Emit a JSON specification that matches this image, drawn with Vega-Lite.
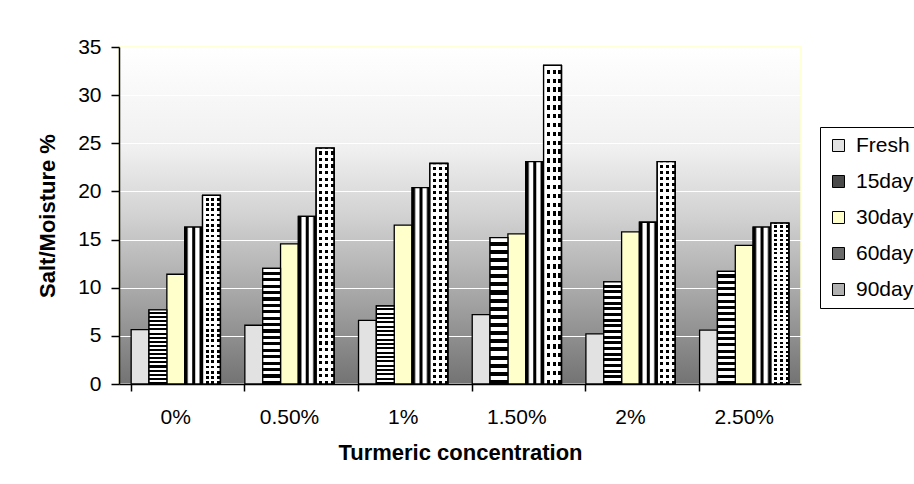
{
  "$schema": "https://vega.github.io/schema/vega-lite/v6.json",
  "width": 682,
  "height": 337,
  "autosize": {"type": "none"},
  "padding": {"left": 119, "top": 47, "right": 113, "bottom": 100},
  "background": "white",
  "config": {
    "font": "Liberation Sans",
    "view": {
      "fill": {"gradient": "linear", "x1": 0, "y1": 0, "x2": 0, "y2": 1,
        "stops": [
          {"offset": 0, "color": "#ffffff"},
          {"offset": 0.3, "color": "#f0f0f0"},
          {"offset": 0.5, "color": "#d2d2d2"},
          {"offset": 0.75, "color": "#a4a4a4"},
          {"offset": 1, "color": "#737373"}
        ]},
      "stroke": "#ffffcc",
      "strokeWidth": 1.5
    },
    "axis": {
      "labelFont": "Liberation Sans",
      "labelFontSize": 21,
      "labelColor": "black",
      "titleFont": "Liberation Sans",
      "titleFontSize": 22,
      "titleFontWeight": "bold",
      "titleColor": "black",
      "domainColor": "black",
      "domainWidth": 1.5,
      "tickColor": "black",
      "tickWidth": 1.5
    }
  },
  "data": {
    "values": [
      {"conc": "0%", "series": "Fresh", "value": 5.65},
      {"conc": "0%", "series": "15day", "value": 7.7},
      {"conc": "0%", "series": "30day", "value": 11.4},
      {"conc": "0%", "series": "60day", "value": 16.3},
      {"conc": "0%", "series": "90day", "value": 19.6},
      {"conc": "0.50%", "series": "Fresh", "value": 6.1},
      {"conc": "0.50%", "series": "15day", "value": 12.0},
      {"conc": "0.50%", "series": "30day", "value": 14.55},
      {"conc": "0.50%", "series": "60day", "value": 17.4},
      {"conc": "0.50%", "series": "90day", "value": 24.5},
      {"conc": "1%", "series": "Fresh", "value": 6.6},
      {"conc": "1%", "series": "15day", "value": 8.1},
      {"conc": "1%", "series": "30day", "value": 16.5},
      {"conc": "1%", "series": "60day", "value": 20.4},
      {"conc": "1%", "series": "90day", "value": 22.9},
      {"conc": "1.50%", "series": "Fresh", "value": 7.2},
      {"conc": "1.50%", "series": "15day", "value": 15.2},
      {"conc": "1.50%", "series": "30day", "value": 15.6},
      {"conc": "1.50%", "series": "60day", "value": 23.1},
      {"conc": "1.50%", "series": "90day", "value": 33.1},
      {"conc": "2%", "series": "Fresh", "value": 5.2},
      {"conc": "2%", "series": "15day", "value": 10.6},
      {"conc": "2%", "series": "30day", "value": 15.8},
      {"conc": "2%", "series": "60day", "value": 16.8},
      {"conc": "2%", "series": "90day", "value": 23.1},
      {"conc": "2.50%", "series": "Fresh", "value": 5.6},
      {"conc": "2.50%", "series": "15day", "value": 11.7},
      {"conc": "2.50%", "series": "30day", "value": 14.4},
      {"conc": "2.50%", "series": "60day", "value": 16.3},
      {"conc": "2.50%", "series": "90day", "value": 16.7}
    ]
  },
  "encoding": {
    "x": {
      "field": "conc", "type": "nominal",
      "sort": ["0%", "0.50%", "1%", "1.50%", "2%", "2.50%"],
      "scale": {"paddingInner": 0.215, "paddingOuter": 0.107},
      "axis": {"title": "Turmeric concentration", "labelAngle": 0, "bandPosition": 0, "grid": false, "tickSize": 7, "labelPadding": 15, "titlePadding": 15}
    },
    "xOffset": {
      "field": "series", "type": "nominal",
      "scale": {"domain": ["Fresh", "15day", "30day", "60day", "90day"], "paddingInner": 0, "paddingOuter": 0}
    },
    "y": {
      "field": "value", "type": "quantitative",
      "scale": {"domain": [0, 35], "nice": false},
      "axis": {"title": "Salt/Moisture %", "values": [0, 5, 10, 15, 20, 25, 30, 35], "grid": true, "gridColor": "white", "gridWidth": 1.2, "tickSize": 8, "labelPadding": 10, "titlePadding": 18}
    }
  },
  "layer": [
    {
      "mark": {"type": "bar", "stroke": "black", "strokeWidth": 1.3},
      "encoding": {
        "fill": {
          "field": "series", "type": "nominal",
          "scale": {
            "domain": ["Fresh", "15day", "30day", "60day", "90day"],
            "range": ["#e2e2e2", "#4a4a4a", "#ffffcc", "#6a6a6a", "#b0b0b0"]
          },
          "legend": {
            "title": null,
            "orient": "none",
            "legendX": 701,
            "legendY": 80,
            "strokeColor": "black",
            "fillColor": "white",
            "padding": 8,
            "labelFont": "Liberation Sans",
            "labelFontSize": 21,
            "labelColor": "black",
            "labelOffset": 7,
            "symbolType": "square",
            "symbolSize": 144,
            "symbolStrokeColor": "black",
            "symbolStrokeWidth": 1,
            "rowPadding": 14
          }
        }
      }
    },
    {
      "transform": [{"filter": "datum.series === '15day'"}],
      "mark": {"type": "bar", "stroke": "black", "strokeWidth": 1.3,
        "fill": {"gradient": "linear", "x1": 0, "y1": 0, "x2": 0, "y2": 1, "stops": [
          {"offset": 0, "color": "#ffffff"}, {"offset": 0.0278, "color": "#ffffff"}, {"offset": 0.0278, "color": "#000000"}, {"offset": 0.0556, "color": "#000000"},
          {"offset": 0.0556, "color": "#ffffff"}, {"offset": 0.0833, "color": "#ffffff"}, {"offset": 0.0833, "color": "#000000"}, {"offset": 0.1111, "color": "#000000"},
          {"offset": 0.1111, "color": "#ffffff"}, {"offset": 0.1389, "color": "#ffffff"}, {"offset": 0.1389, "color": "#000000"}, {"offset": 0.1667, "color": "#000000"},
          {"offset": 0.1667, "color": "#ffffff"}, {"offset": 0.1944, "color": "#ffffff"}, {"offset": 0.1944, "color": "#000000"}, {"offset": 0.2222, "color": "#000000"},
          {"offset": 0.2222, "color": "#ffffff"}, {"offset": 0.25, "color": "#ffffff"}, {"offset": 0.25, "color": "#000000"}, {"offset": 0.2778, "color": "#000000"},
          {"offset": 0.2778, "color": "#ffffff"}, {"offset": 0.3056, "color": "#ffffff"}, {"offset": 0.3056, "color": "#000000"}, {"offset": 0.3333, "color": "#000000"},
          {"offset": 0.3333, "color": "#ffffff"}, {"offset": 0.3611, "color": "#ffffff"}, {"offset": 0.3611, "color": "#000000"}, {"offset": 0.3889, "color": "#000000"},
          {"offset": 0.3889, "color": "#ffffff"}, {"offset": 0.4167, "color": "#ffffff"}, {"offset": 0.4167, "color": "#000000"}, {"offset": 0.4444, "color": "#000000"},
          {"offset": 0.4444, "color": "#ffffff"}, {"offset": 0.4722, "color": "#ffffff"}, {"offset": 0.4722, "color": "#000000"}, {"offset": 0.5, "color": "#000000"},
          {"offset": 0.5, "color": "#ffffff"}, {"offset": 0.5278, "color": "#ffffff"}, {"offset": 0.5278, "color": "#000000"}, {"offset": 0.5556, "color": "#000000"},
          {"offset": 0.5556, "color": "#ffffff"}, {"offset": 0.5833, "color": "#ffffff"}, {"offset": 0.5833, "color": "#000000"}, {"offset": 0.6111, "color": "#000000"},
          {"offset": 0.6111, "color": "#ffffff"}, {"offset": 0.6389, "color": "#ffffff"}, {"offset": 0.6389, "color": "#000000"}, {"offset": 0.6667, "color": "#000000"},
          {"offset": 0.6667, "color": "#ffffff"}, {"offset": 0.6944, "color": "#ffffff"}, {"offset": 0.6944, "color": "#000000"}, {"offset": 0.7222, "color": "#000000"},
          {"offset": 0.7222, "color": "#ffffff"}, {"offset": 0.75, "color": "#ffffff"}, {"offset": 0.75, "color": "#000000"}, {"offset": 0.7778, "color": "#000000"},
          {"offset": 0.7778, "color": "#ffffff"}, {"offset": 0.8056, "color": "#ffffff"}, {"offset": 0.8056, "color": "#000000"}, {"offset": 0.8333, "color": "#000000"},
          {"offset": 0.8333, "color": "#ffffff"}, {"offset": 0.8611, "color": "#ffffff"}, {"offset": 0.8611, "color": "#000000"}, {"offset": 0.8889, "color": "#000000"},
          {"offset": 0.8889, "color": "#ffffff"}, {"offset": 0.9167, "color": "#ffffff"}, {"offset": 0.9167, "color": "#000000"}, {"offset": 0.9444, "color": "#000000"},
          {"offset": 0.9444, "color": "#ffffff"}, {"offset": 0.9722, "color": "#ffffff"}, {"offset": 0.9722, "color": "#000000"}, {"offset": 1, "color": "#000000"}
        ]}
      }
    },
    {
      "transform": [{"filter": "datum.series === '60day'"}],
      "mark": {"type": "bar", "stroke": "black", "strokeWidth": 1.3,
        "fill": {"gradient": "linear", "x1": 0, "y1": 0, "x2": 1, "y2": 0, "stops": [
          {"offset": 0, "color": "#000000"}, {"offset": 0.12, "color": "#000000"},
          {"offset": 0.22, "color": "#ffffff"}, {"offset": 0.38, "color": "#ffffff"},
          {"offset": 0.45, "color": "#000000"}, {"offset": 0.55, "color": "#000000"},
          {"offset": 0.62, "color": "#ffffff"}, {"offset": 0.78, "color": "#ffffff"},
          {"offset": 0.88, "color": "#000000"}, {"offset": 1, "color": "#000000"}
        ]}
      }
    },
    {
      "transform": [{"filter": "datum.series === '90day'"}],
      "mark": {"type": "bar", "stroke": "black", "strokeWidth": 1.3,
        "fill": {"gradient": "linear", "x1": 0, "y1": 0, "x2": 0, "y2": 1, "stops": [
          {"offset": 0, "color": "#ffffff"}, {"offset": 0.0139, "color": "#ffffff"}, {"offset": 0.0139, "color": "#000000"}, {"offset": 0.0278, "color": "#000000"},
          {"offset": 0.0278, "color": "#ffffff"}, {"offset": 0.0417, "color": "#ffffff"}, {"offset": 0.0417, "color": "#000000"}, {"offset": 0.0556, "color": "#000000"},
          {"offset": 0.0556, "color": "#ffffff"}, {"offset": 0.0694, "color": "#ffffff"}, {"offset": 0.0694, "color": "#000000"}, {"offset": 0.0833, "color": "#000000"},
          {"offset": 0.0833, "color": "#ffffff"}, {"offset": 0.0972, "color": "#ffffff"}, {"offset": 0.0972, "color": "#000000"}, {"offset": 0.1111, "color": "#000000"},
          {"offset": 0.1111, "color": "#ffffff"}, {"offset": 0.125, "color": "#ffffff"}, {"offset": 0.125, "color": "#000000"}, {"offset": 0.1389, "color": "#000000"},
          {"offset": 0.1389, "color": "#ffffff"}, {"offset": 0.1528, "color": "#ffffff"}, {"offset": 0.1528, "color": "#000000"}, {"offset": 0.1667, "color": "#000000"},
          {"offset": 0.1667, "color": "#ffffff"}, {"offset": 0.1806, "color": "#ffffff"}, {"offset": 0.1806, "color": "#000000"}, {"offset": 0.1944, "color": "#000000"},
          {"offset": 0.1944, "color": "#ffffff"}, {"offset": 0.2083, "color": "#ffffff"}, {"offset": 0.2083, "color": "#000000"}, {"offset": 0.2222, "color": "#000000"},
          {"offset": 0.2222, "color": "#ffffff"}, {"offset": 0.2361, "color": "#ffffff"}, {"offset": 0.2361, "color": "#000000"}, {"offset": 0.25, "color": "#000000"},
          {"offset": 0.25, "color": "#ffffff"}, {"offset": 0.2639, "color": "#ffffff"}, {"offset": 0.2639, "color": "#000000"}, {"offset": 0.2778, "color": "#000000"},
          {"offset": 0.2778, "color": "#ffffff"}, {"offset": 0.2917, "color": "#ffffff"}, {"offset": 0.2917, "color": "#000000"}, {"offset": 0.3056, "color": "#000000"},
          {"offset": 0.3056, "color": "#ffffff"}, {"offset": 0.3194, "color": "#ffffff"}, {"offset": 0.3194, "color": "#000000"}, {"offset": 0.3333, "color": "#000000"},
          {"offset": 0.3333, "color": "#ffffff"}, {"offset": 0.3472, "color": "#ffffff"}, {"offset": 0.3472, "color": "#000000"}, {"offset": 0.3611, "color": "#000000"},
          {"offset": 0.3611, "color": "#ffffff"}, {"offset": 0.375, "color": "#ffffff"}, {"offset": 0.375, "color": "#000000"}, {"offset": 0.3889, "color": "#000000"},
          {"offset": 0.3889, "color": "#ffffff"}, {"offset": 0.4028, "color": "#ffffff"}, {"offset": 0.4028, "color": "#000000"}, {"offset": 0.4167, "color": "#000000"},
          {"offset": 0.4167, "color": "#ffffff"}, {"offset": 0.4306, "color": "#ffffff"}, {"offset": 0.4306, "color": "#000000"}, {"offset": 0.4444, "color": "#000000"},
          {"offset": 0.4444, "color": "#ffffff"}, {"offset": 0.4583, "color": "#ffffff"}, {"offset": 0.4583, "color": "#000000"}, {"offset": 0.4722, "color": "#000000"},
          {"offset": 0.4722, "color": "#ffffff"}, {"offset": 0.4861, "color": "#ffffff"}, {"offset": 0.4861, "color": "#000000"}, {"offset": 0.5, "color": "#000000"},
          {"offset": 0.5, "color": "#ffffff"}, {"offset": 0.5139, "color": "#ffffff"}, {"offset": 0.5139, "color": "#000000"}, {"offset": 0.5278, "color": "#000000"},
          {"offset": 0.5278, "color": "#ffffff"}, {"offset": 0.5417, "color": "#ffffff"}, {"offset": 0.5417, "color": "#000000"}, {"offset": 0.5556, "color": "#000000"},
          {"offset": 0.5556, "color": "#ffffff"}, {"offset": 0.5694, "color": "#ffffff"}, {"offset": 0.5694, "color": "#000000"}, {"offset": 0.5833, "color": "#000000"},
          {"offset": 0.5833, "color": "#ffffff"}, {"offset": 0.5972, "color": "#ffffff"}, {"offset": 0.5972, "color": "#000000"}, {"offset": 0.6111, "color": "#000000"},
          {"offset": 0.6111, "color": "#ffffff"}, {"offset": 0.625, "color": "#ffffff"}, {"offset": 0.625, "color": "#000000"}, {"offset": 0.6389, "color": "#000000"},
          {"offset": 0.6389, "color": "#ffffff"}, {"offset": 0.6528, "color": "#ffffff"}, {"offset": 0.6528, "color": "#000000"}, {"offset": 0.6667, "color": "#000000"},
          {"offset": 0.6667, "color": "#ffffff"}, {"offset": 0.6806, "color": "#ffffff"}, {"offset": 0.6806, "color": "#000000"}, {"offset": 0.6944, "color": "#000000"},
          {"offset": 0.6944, "color": "#ffffff"}, {"offset": 0.7083, "color": "#ffffff"}, {"offset": 0.7083, "color": "#000000"}, {"offset": 0.7222, "color": "#000000"},
          {"offset": 0.7222, "color": "#ffffff"}, {"offset": 0.7361, "color": "#ffffff"}, {"offset": 0.7361, "color": "#000000"}, {"offset": 0.75, "color": "#000000"},
          {"offset": 0.75, "color": "#ffffff"}, {"offset": 0.7639, "color": "#ffffff"}, {"offset": 0.7639, "color": "#000000"}, {"offset": 0.7778, "color": "#000000"},
          {"offset": 0.7778, "color": "#ffffff"}, {"offset": 0.7917, "color": "#ffffff"}, {"offset": 0.7917, "color": "#000000"}, {"offset": 0.8056, "color": "#000000"},
          {"offset": 0.8056, "color": "#ffffff"}, {"offset": 0.8194, "color": "#ffffff"}, {"offset": 0.8194, "color": "#000000"}, {"offset": 0.8333, "color": "#000000"},
          {"offset": 0.8333, "color": "#ffffff"}, {"offset": 0.8472, "color": "#ffffff"}, {"offset": 0.8472, "color": "#000000"}, {"offset": 0.8611, "color": "#000000"},
          {"offset": 0.8611, "color": "#ffffff"}, {"offset": 0.875, "color": "#ffffff"}, {"offset": 0.875, "color": "#000000"}, {"offset": 0.8889, "color": "#000000"},
          {"offset": 0.8889, "color": "#ffffff"}, {"offset": 0.9028, "color": "#ffffff"}, {"offset": 0.9028, "color": "#000000"}, {"offset": 0.9167, "color": "#000000"},
          {"offset": 0.9167, "color": "#ffffff"}, {"offset": 0.9306, "color": "#ffffff"}, {"offset": 0.9306, "color": "#000000"}, {"offset": 0.9444, "color": "#000000"},
          {"offset": 0.9444, "color": "#ffffff"}, {"offset": 0.9583, "color": "#ffffff"}, {"offset": 0.9583, "color": "#000000"}, {"offset": 0.9722, "color": "#000000"},
          {"offset": 0.9722, "color": "#ffffff"}, {"offset": 0.9861, "color": "#ffffff"}, {"offset": 0.9861, "color": "#000000"}, {"offset": 1, "color": "#000000"}
        ]}
      }
    },
    {
      "transform": [{"filter": "datum.series === '90day'"}],
      "mark": {"type": "bar", "stroke": "black", "strokeWidth": 1.3,
        "fill": {"gradient": "linear", "x1": 0, "y1": 0, "x2": 1, "y2": 0, "stops": [
          {"offset": 0, "color": "rgba(255,255,255,1)"}, {"offset": 0.1667, "color": "rgba(255,255,255,1)"},
          {"offset": 0.1667, "color": "rgba(255,255,255,0)"}, {"offset": 0.3333, "color": "rgba(255,255,255,0)"},
          {"offset": 0.3333, "color": "rgba(255,255,255,1)"}, {"offset": 0.5, "color": "rgba(255,255,255,1)"},
          {"offset": 0.5, "color": "rgba(255,255,255,0)"}, {"offset": 0.6667, "color": "rgba(255,255,255,0)"},
          {"offset": 0.6667, "color": "rgba(255,255,255,1)"}, {"offset": 0.8333, "color": "rgba(255,255,255,1)"},
          {"offset": 0.8333, "color": "rgba(255,255,255,0)"}, {"offset": 1, "color": "rgba(255,255,255,0)"}
        ]}
      }
    }
  ]
}
